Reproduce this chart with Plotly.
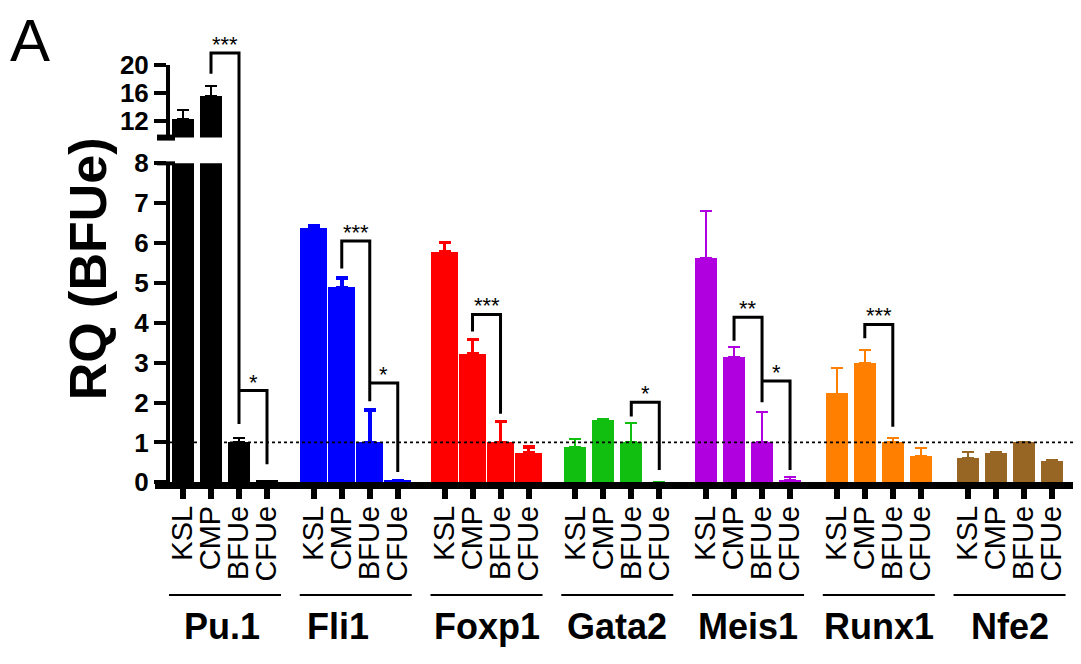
import plotly.graph_objects as go

W, H = 1081, 664
OFF = 8  # page body margin: figure pixel = picture pixel - OFF
FONT = "Liberation Sans, Arial, sans-serif"

genes = ["Pu.1", "Fli1", "Foxp1", "Gata2", "Meis1", "Runx1", "Nfe2"]
cells = ["KSL", "CMP", "BFUe", "CFUe"]
colors = ["#000000", "#0000FF", "#FF0000", "#10BF10", "#B000E0", "#FF8000", "#976524"]

pu1 = [12.4, 15.6, 1.0, 0.03]
fli1 = [6.37, 4.88, 1.0, 0.03]
foxp1 = [5.78, 3.22, 1.0, 0.73]
gata2 = [0.88, 1.55, 1.0, 0.0]
meis1 = [5.62, 3.14, 1.0, 0.06]
runx1 = [2.22, 2.99, 1.0, 0.65]
nfe2 = [0.61, 0.73, 1.0, 0.53]

pu1_err = [1.2, 1.4, 0.11, 0.0]
fli1_err = [0.07, 0.24, 0.81, 0.0]
foxp1_err = [0.24, 0.36, 0.53, 0.16]
gata2_err = [0.20, 0.03, 0.49, 0.0]
meis1_err = [1.19, 0.26, 0.77, 0.07]
runx1_err = [0.65, 0.32, 0.12, 0.20]
nfe2_err = [0.16, 0.03, 0.02, 0.02]

values = [pu1, fli1, foxp1, gata2, meis1, runx1, nfe2]
errors = [pu1_err, fli1_err, foxp1_err, gata2_err, meis1_err, runx1_err, nfe2_err]

# significance brackets
sig_gene = [0, 0, 1, 1, 2, 3, 4, 4, 5]
sig_from = [1, 2, 1, 2, 1, 2, 1, 2, 1]
sig_to = [2, 3, 2, 3, 2, 3, 2, 3, 2]
sig_label = ["***", "*", "***", "*", "***", "*", "**", "*", "***"]
sig_top = [21.7, 2.30, 6.05, 2.49, 4.21, 2.01, 4.14, 2.54, 3.96]
sig_top_axis = ["y2", "y", "y", "y", "y", "y", "y", "y", "y"]
sig_left = [18.75, None, 5.36, None, 3.78, 1.65, 3.55, None, 3.61]
sig_left_axis = ["y2", "y", "y", "y", "y", "y", "y", "y", "y"]
sig_right = [1.46, 0.45, 2.03, 0.26, 1.72, 0.31, 2.01, 0.31, 1.39]

GROUP_STEP = 4.67
bar_widths = [0.79, 0.95, 0.95, 0.79, 0.79, 0.79, 0.79]
err_thick = [2, 3.5, 3.5, 2, 2, 2, 2]


def fx(p):  # picture x pixel -> paper fraction
    return (p - OFF) / W


def fy(p):  # picture y pixel -> paper fraction
    return 1 - (p - OFF) / H


XD = (fx(155), 1.0)
XR = (-1.0, (W + OFF - 183) / 28.0)
Y1D = (fy(489), fy(155))
Y1R = (0, 8)
Y2D = (fy(128), fy(52))
Y2R = (9.7, 20)
YPOS = fx(168)


def px(v):
    return XD[0] + (v - XR[0]) / (XR[1] - XR[0]) * (XD[1] - XD[0])


def py(v, ax="y"):
    D, R = (Y1D, Y1R) if ax == "y" else (Y2D, Y2R)
    return D[0] + (v - R[0]) / (R[1] - R[0]) * (D[1] - D[0])


def xpos(g, i):
    return g * GROUP_STEP + i


fig = go.Figure()
for g, gene in enumerate(genes):
    xs = [xpos(g, i) for i in range(4)]
    axes = ["y", "y2"] if g == 0 else ["y"]
    for ax in axes:
        fig.add_trace(go.Bar(
            x=xs, y=values[g], width=bar_widths[g], yaxis=ax, xaxis="x",
            marker=dict(color=colors[g], line=dict(width=0)),
            error_y=dict(type="data", array=errors[g], arrayminus=[0] * 4,
                         symmetric=False, color=colors[g],
                         thickness=err_thick[g], width=6),
            showlegend=False, hoverinfo="skip"))

shapes = []
annotations = []

# reference line at RQ = 1
shapes.append(dict(type="line", xref="paper", yref="paper", x0=fx(158), x1=1.0,
                   y0=py(1), y1=py(1), line=dict(color="black", width=1.6, dash="dot"),
                   layer="above"))

# axis break end caps
for yv, ax, lw in [(8, "y", 4), (Y2R[0], "y2", 6)]:
    shapes.append(dict(type="line", xref="paper", yref="paper",
                       x0=YPOS - 11 / W, x1=YPOS + 7 / W, y0=py(yv, ax), y1=py(yv, ax),
                       line=dict(color="black", width=lw)))

# significance brackets
for k in range(len(sig_gene)):
    g = sig_gene[k]
    xl = px(xpos(g, sig_from[k]))
    xr = px(xpos(g, sig_to[k]))
    yt = py(sig_top[k], sig_top_axis[k])
    yr = py(sig_right[k])
    if sig_left[k] is not None:
        yl = py(sig_left[k], sig_left_axis[k])
        path = f"M {xl},{yl} L {xl},{yt} L {xr},{yt} L {xr},{yr}"
    else:
        path = f"M {xl},{yt} L {xr},{yt} L {xr},{yr}"
    shapes.append(dict(type="path", xref="paper", yref="paper", path=path,
                       line=dict(color="black", width=3)))
    annotations.append(dict(x=(xl + xr) / 2, y=yt, xref="paper", yref="paper",
                            text=sig_label[k], showarrow=False, yanchor="bottom",
                            xanchor="center", yshift=-6,
                            font=dict(family=FONT, size=22, color="black")))

# group lines and labels
label_shift = [-3, -18, 0, 0, 0, 0, 0]
for g, gene in enumerate(genes):
    x0 = px(xpos(g, 0) - 0.5)
    x1 = px(xpos(g, 3) + 0.5)
    shapes.append(dict(type="line", xref="paper", yref="paper", x0=x0, x1=x1,
                       y0=fy(607), y1=fy(607), line=dict(color="black", width=2)))
    annotations.append(dict(x=(x0 + x1) / 2, y=fy(640), xref="paper", yref="paper",
                            text=f"<b>{gene}</b>", showarrow=False, xshift=label_shift[g],
                            xanchor="center", yanchor="middle",
                            font=dict(family=FONT, size=36, color="black")))

annotations.append(dict(x=fx(88), y=fy(266), xref="paper", yref="paper",
                        text="<b>RQ (BFUe)</b>", textangle=-90, showarrow=False,
                        xanchor="center", yanchor="middle",
                        font=dict(family=FONT, size=52, color="black")))
annotations.append(dict(x=fx(30), y=fy(26), xref="paper", yref="paper",
                        text="A", showarrow=False, xanchor="center", yanchor="middle",
                        font=dict(family=FONT, size=60, color="black")))

all_x = [xpos(g, i) for g in range(len(genes)) for i in range(4)]
lower_ticks = list(range(0, 9))
upper_ticks = [12, 16, 20]

yax_common = dict(showline=True, linewidth=4, linecolor="black", ticks="outside",
                  ticklen=12, tickwidth=4, tickcolor="black", showgrid=False,
                  zeroline=False, anchor="free", position=YPOS)

fig.update_layout(
    width=W, height=H,
    margin=dict(l=0, r=0, t=0, b=0),
    paper_bgcolor="white", plot_bgcolor="white",
    bargap=0,
    xaxis=dict(domain=list(XD), range=list(XR), tickvals=all_x,
               ticktext=cells * len(genes), tickangle=-90,
               tickfont=dict(family=FONT, size=29, color="black"),
               showline=True, linewidth=7, linecolor="black", ticks="outside",
               ticklen=10, tickwidth=6, tickcolor="black", showgrid=False,
               zeroline=False, anchor="y", ticklabelstandoff=-5),
    yaxis=dict(domain=list(Y1D), range=list(Y1R), tickvals=lower_ticks,
               ticktext=[f"<b>{t}</b>" for t in lower_ticks],
               tickfont=dict(family=FONT, size=26, color="black"), **yax_common),
    yaxis2=dict(domain=list(Y2D), range=list(Y2R), tickvals=upper_ticks,
                ticktext=[f"<b>{t}</b>" for t in upper_ticks],
                tickfont=dict(family=FONT, size=26, color="black"), **yax_common),
    shapes=shapes,
    annotations=annotations,
)

fig.write_html("out.html")
